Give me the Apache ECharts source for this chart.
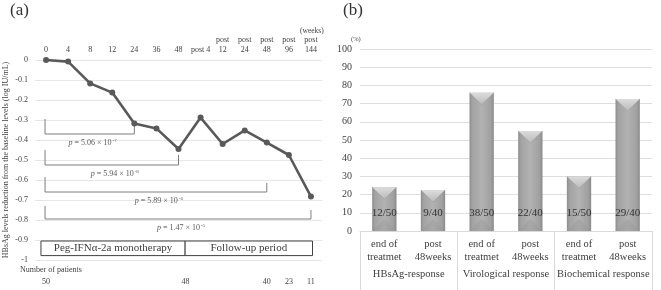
<!DOCTYPE html>
<html><head><meta charset="utf-8">
<script src="https://cdn.jsdelivr.net/npm/echarts@6/dist/echarts.min.js"></script>
<style>html,body{margin:0;padding:0;background:#fff}#c{width:661px;height:290px}</style>
</head><body><div id="c"></div>
<script>
// ---------- Panel (a) data ----------
const weekLabels = ['0','4','8','12','24','36','48','post 4','post\n12','post\n24','post\n48','post\n96','post\n144'];
const hbsagReduction = [0,-0.008,-0.117,-0.163,-0.318,-0.342,-0.445,-0.288,-0.42,-0.352,-0.413,-0.475,-0.683];
const patients = ['50','','','','','','48','','','','40','23','11'];
const bracketStart = [0,0,0,0];
const bracketEnd = [4,6,10,12];
const bracketLeftTop = [-0.295,-0.45,-0.585,-0.73];
const bracketBase = [-0.37,-0.525,-0.66,-0.795];
const bracketRightTop = [-0.325,-0.475,-0.615,-0.75];
const pMantissa = ['5.06','5.94','5.89','1.47'];
const pExponent = ['-7','-8','-6','-5'];
const phaseNames = ['Peg-IFNα-2a monotherapy','Follow-up period'];
const phaseStart = [-0.23, 6.3];
const phaseEnd = [6.3, 12.07];
const phaseTop = -0.905, phaseBottom = -0.978;

// ---------- Panel (b) data ----------
const responseCats = ['end of\ntreatmet','post\n48weeks','end of\ntreatmet','post\n48weeks','end of\ntreatmet','post\n48weeks'];
const responseGroups = ['HBsAg-response','Virological response','Biochemical response'];
const responseRate = [24,22.5,76,55,30,72.5];
const responseCounts = ['12/50','9/40','38/50','22/40','15/50','29/40'];

const SERIF = "'Liberation Serif','Times New Roman',serif";
const TXT = '#404040';

const chart = echarts.init(document.getElementById('c'), null, {renderer:'canvas'});

function bracketItem(params, api){
  const i = params.dataIndex;
  const xl = api.coord([bracketStart[i], 0])[0] - 1;
  const xr = api.coord([bracketEnd[i], 0])[0];
  const yTop = api.coord([0, bracketLeftTop[i]])[1];
  const yBase = api.coord([0, bracketBase[i]])[1];
  const yRT = api.coord([0, bracketRightTop[i]])[1];
  return {type:'group', children:[
    {type:'polyline', shape:{points:[[xl,yTop],[xl,yBase],[xr,yBase],[xr,yRT]]},
     style:{stroke:'#7f7f7f', lineWidth:1, fill:null}},
    {type:'text', x:(xl+xr)/2 + 3, y:yBase + 9,
     style:{text:'{i|p} = ' + pMantissa[i] + ' × 10{s|' + pExponent[i] + '}',
       align:'center', verticalAlign:'middle', fill:'#595959', font:'8px ' + SERIF,
       rich:{i:{fontStyle:'italic', fontSize:8, fontFamily:SERIF, fill:'#595959'},
             s:{fontSize:5, fontFamily:SERIF, fill:'#595959', verticalAlign:'top', padding:[0,0,5,1]}}}}
  ]};
}

function phaseItem(params, api){
  const i = params.dataIndex;
  const band = api.size([1,0])[0];
  const x0 = api.coord([0,0])[0];
  const xa = x0 + phaseStart[i]*band, xb = x0 + phaseEnd[i]*band;
  const ya = api.coord([0, phaseTop])[1], yb = api.coord([0, phaseBottom])[1];
  return {type:'group', children:[
    {type:'rect', shape:{x:xa, y:ya, width:xb-xa, height:yb-ya}, style:{stroke:'#404040', lineWidth:1, fill:'#fff'}},
    {type:'text', x:(xa+xb)/2, y:(ya+yb)/2, style:{text:phaseNames[i], align:'center', verticalAlign:'middle', font:'11px ' + SERIF, fill:TXT}}
  ]};
}

function bevelItem(params, api){
  const i = params.dataIndex;
  const band = api.size([1,0])[0];
  const w = band*0.5;
  const top = api.coord([i, responseRate[i]]);
  const cx = top[0];
  const yTop = top[1];
  const yBot = api.coord([i, 0])[1];
  const x0 = cx - w/2, x1 = cx + w/2;
  const b = 12;
  return {type:'group', children:[
    {type:'polygon', shape:{points:[[x0,yTop],[x1,yTop],[cx,yTop+b]]},
     style:{fill:new echarts.graphic.LinearGradient(0,0,0,1,[{offset:0,color:'#dcdcdc'},{offset:1,color:'#bababa'}])}},
    {type:'polygon', shape:{points:[[x0,yBot],[x1,yBot],[cx,yBot-b]]},
     style:{fill:'rgba(150,150,150,0.35)'}},
    {type:'polyline', shape:{points:[[x0,yTop],[cx,yTop+b],[x1,yTop]]}, style:{stroke:'rgba(130,130,130,0.5)', lineWidth:0.6, fill:null}},
    {type:'text', x:cx, y:api.coord([i,10])[1], style:{text:responseCounts[i], align:'center', verticalAlign:'middle', font:'11px ' + SERIF, fill:'#333'}}
  ]};
}

const option = {
  animation:false,
  backgroundColor:'#fff',
  textStyle:{fontFamily:SERIF},
  grid:[
    {left:35, right:339, top:60, height:200},
    {left:360, right:9, top:49, bottom:59}
  ],
  xAxis:[
    {gridIndex:0, type:'category', position:'top', data:weekLabels,
     axisLine:{show:false}, axisTick:{show:false},
     axisLabel:{interval:0, fontSize:8, lineHeight:10, color:TXT, fontFamily:SERIF, margin:5}},
    {gridIndex:0, type:'category', position:'bottom', data:patients,
     axisLine:{show:false}, axisTick:{show:false},
     axisLabel:{interval:0, fontSize:8, color:TXT, fontFamily:SERIF, margin:18,
       formatter:function(v){ return v === '48' ? '{s|' + v + '}' : v; },
       rich:{s:{fontSize:8, fontFamily:SERIF, color:TXT, padding:[0,0,0,14]}}}},
    {gridIndex:1, type:'category', position:'bottom', data:responseCats,
     axisLine:{show:true, lineStyle:{color:'#d9d9d9'}}, axisTick:{show:false},
     axisLabel:{interval:0, fontSize:10.5, lineHeight:13, color:TXT, fontFamily:SERIF, margin:7}},
    {gridIndex:1, type:'category', position:'bottom', data:responseGroups,
     axisLine:{show:false}, axisTick:{show:true, length:60, lineStyle:{color:'#d9d9d9'}},
     axisLabel:{interval:0, fontSize:10.5, color:TXT, fontFamily:SERIF, margin:38}}
  ],
  yAxis:[
    {gridIndex:0, type:'value', min:-1, max:0, interval:0.1,
     name:'HBsAg levels reduction from the baseline levels (log IU/mL)',
     nameLocation:'middle', nameGap:25, nameRotate:90,
     nameTextStyle:{fontSize:8, color:TXT, fontFamily:SERIF},
     axisLine:{show:false}, axisTick:{show:false},
     axisLabel:{fontSize:8, color:TXT, fontFamily:SERIF, margin:7,
       formatter:function(v){ return Math.abs(v) < 1e-9 ? '0' : (Math.round(v*10)/10).toString(); }},
     splitLine:{lineStyle:{color:'#e6e6e6'}}},
    {gridIndex:1, type:'value', min:0, max:100, interval:10,
     axisLine:{show:false}, axisTick:{show:false},
     axisLabel:{fontSize:10, color:TXT, fontFamily:SERIF, margin:8},
     splitLine:{lineStyle:{color:'#dedede'}}}
  ],
  series:[
    {type:'custom', xAxisIndex:0, yAxisIndex:0, renderItem:bracketItem, clip:false, z:3,
     data:bracketEnd.map((e,i)=>[e, bracketBase[i]])},
    {type:'custom', xAxisIndex:0, yAxisIndex:0, renderItem:phaseItem, clip:false, z:3,
     data:phaseNames.map((n,i)=>[i, phaseTop])},
    {type:'line', xAxisIndex:0, yAxisIndex:0, data:hbsagReduction, z:5,
     symbol:'circle', symbolSize:6,
     lineStyle:{color:'#595959', width:2.6}, itemStyle:{color:'#595959'}},
    {type:'bar', xAxisIndex:2, yAxisIndex:1, data:responseRate, barWidth:'50%', z:2,
     itemStyle:{color:new echarts.graphic.LinearGradient(0,0,1,0,[
       {offset:0,color:'#8e8e8e'},{offset:0.12,color:'#a3a3a3'},{offset:0.5,color:'#b2b2b2'},
       {offset:0.88,color:'#a0a0a0'},{offset:1,color:'#8a8a8a'}])}},
    {type:'custom', xAxisIndex:2, yAxisIndex:1, renderItem:bevelItem, clip:false, z:4,
     data:responseRate.map((v,i)=>[i, v])}
  ],
  graphic:[
    {type:'text', left:10, top:2, style:{text:'(a)', font:'17px ' + SERIF, fill:'#333'}},
    {type:'text', left:343, top:2, style:{text:'(b)', font:'17px ' + SERIF, fill:'#333'}},
    {type:'text', left:300, top:27, style:{text:'(weeks)', font:'7.5px ' + SERIF, fill:TXT}},
    {type:'text', left:351, top:36, style:{text:'(%)', font:'6.5px ' + SERIF, fill:TXT}},
    {type:'text', left:20, top:266, style:{text:'Number of patients', font:'8px ' + SERIF, fill:TXT}}
  ]
};
chart.setOption(option);
</script>
</body></html>
